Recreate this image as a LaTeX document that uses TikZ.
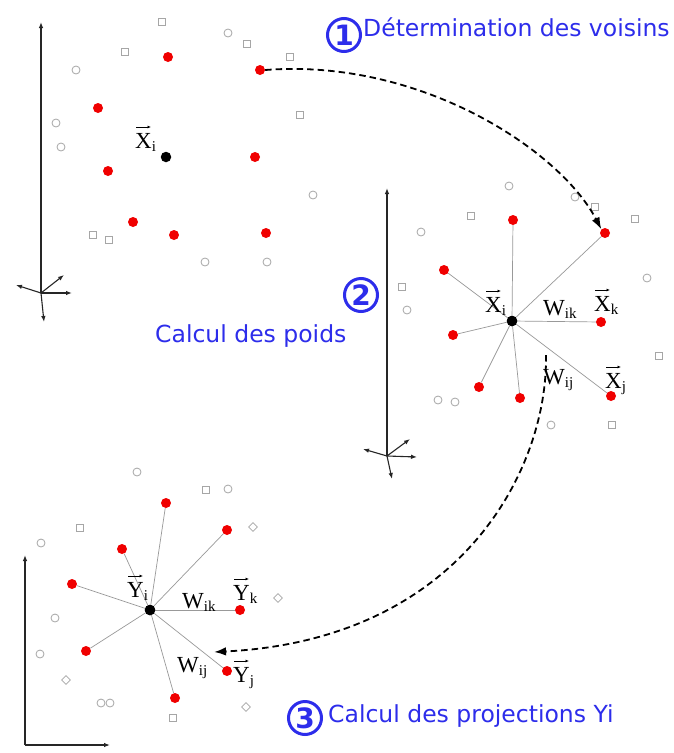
\documentclass[tikz,border=0pt]{standalone}
\usepackage{fontspec}
\setmainfont{Liberation Serif}
\newfontfamily\dvsans{DejaVu Sans}
\usetikzlibrary{arrows.meta,shapes.geometric}
\definecolor{txtblue}{RGB}{45,45,235}
\definecolor{ptred}{RGB}{240,0,0}
\newcommand\subl[1]{$_{\mbox{\fontsize{15}{15}\selectfont #1}}$}
\tikzset{
  reddot/.style={circle,fill=ptred,inner sep=0pt,minimum size=10pt},
  blackdot/.style={circle,fill=black,inner sep=0pt,minimum size=10.5pt},
  hc/.style={circle,draw=black!35,line width=0.8pt,inner sep=0pt,minimum size=8pt},
  hs/.style={rectangle,draw=black!35,line width=0.8pt,inner sep=0pt,minimum size=7.5pt},
  hd/.style={diamond,draw=black!35,line width=0.8pt,inner sep=0pt,minimum size=9pt},
  spoke/.style={draw=black!40,line width=0.7pt},
  axis/.style={draw=black!85,line width=1.1pt,-{Latex[length=6pt,width=4.5pt]}},
  flow/.style={draw=black,line width=1.8pt,dash pattern=on 6.5pt off 4pt,-{Latex[length=12pt,width=8.5pt]}},
  lab/.style={font=\fontsize{23}{23}\selectfont,inner sep=0pt,anchor=base west},
  vec/.style={draw=black,line width=0.8pt,-{Latex[length=3.5pt,width=3pt]}},
  stepnum/.style={circle,draw=txtblue,line width=3pt,inner sep=0pt,minimum size=33pt,text=txtblue,font=\dvsans\bfseries\fontsize{28}{28}\selectfont},
  steptext/.style={text=txtblue,font=\dvsans\fontsize{23.5}{23.5}\selectfont,inner sep=0pt,anchor=base west}
}
\begin{document}
\begin{tikzpicture}[x=1pt,y=-1pt]
\useasboundingbox[fill=white] (0,0) rectangle (674,753);

% ---------- hollow background points ----------
\foreach \x/\y [count=\n] in {228/33,76/70,56/123,61/147,313/195,205/262,267/262,
  509/186,575/197,421/232,647/278,407/310,438/400,455/402,551/425,
  137/472,228/489,41/543,55/618,40/654,101/703,110/703}
  \node[hc] (c\n) at (\x,\y) {};
\foreach \x/\y [count=\n] in {162/22,247/44,125/52,290/57,300/115,93/235,109/240,
  595/207,471/216,635/219,402/287,659/356,612/425,
  206/490,80/528,173/718}
  \node[hs] (s\n) at (\x,\y) {};
\foreach \x/\y [count=\n] in {253/527,278/598,66/680,246/707}
  \node[hd] (d\n) at (\x,\y) {};

% ---------- panel 1 ----------
\coordinate (o1) at (41,293);
\coordinate (o1t) at (41,22);
\coordinate (o1a) at (72,293);
\coordinate (o1b) at (64,275);
\coordinate (o1c) at (16,285);
\coordinate (o1d) at (44,322);
\draw[axis] (o1) -- (o1t);
\foreach \e in {o1a,o1b,o1c,o1d} \draw[axis] (o1) -- (\e);

\foreach \x/\y [count=\n] in {168/57,260/70,98/108,108/171,255/157,133/222,174/235,266/233}
  \node[reddot] (a\n) at (\x,\y) {};
\node[blackdot] (ax) at (166,157) {};
\node[lab] (axl) at (135,148) {X\subl{i}};
\draw[vec] ([shift={(1,-21)}]axl.base west) -- ++(15,0);

% ---------- panel 2 ----------
\coordinate (o2) at (387,456);
\coordinate (o2t) at (387,188);
\coordinate (o2a) at (417,457);
\coordinate (o2b) at (410,439);
\coordinate (o2c) at (363,449);
\coordinate (o2d) at (392,479);
\draw[axis] (o2) -- (o2t);
\foreach \e in {o2a,o2b,o2c,o2d} \draw[axis] (o2) -- (\e);

\node[blackdot] (bx) at (512,321) {};
\foreach \x/\y [count=\n] in {513/220,605/233,444/270,601/322,453/335,479/387,520/398,611/396}
  \node[reddot] (b\n) at (\x,\y) {};
\foreach \n in {1,...,8} \draw[spoke] (bx) -- (b\n);
\node[blackdot] at (bx) {};
\node[lab] (bxl) at (485,312) {X\subl{i}};
\draw[vec] ([shift={(1,-21)}]bxl.base west) -- ++(15,0);
\node[lab] (bwk) at (543,315) {W\subl{ik}};
\node[lab] (bxk) at (594,311) {X\subl{k}};
\draw[vec] ([shift={(1,-21)}]bxk.base west) -- ++(15,0);
\node[lab] (bwj) at (543,384) {W\subl{ij}};
\node[lab] (bxj) at (605,388) {X\subl{j}};
\draw[vec] ([shift={(1,-21)}]bxj.base west) -- ++(15,0);

% ---------- panel 3 ----------
\coordinate (o3) at (25,745);
\coordinate (o3t) at (25,555);
\coordinate (o3r) at (110,745);
\draw[axis] (o3) -- (o3t);
\draw[axis] (o3) -- (o3r);

\node[blackdot] (cx) at (150,610) {};
\foreach \x/\y [count=\n] in {166/503,227/530,122/549,72/584,240/610,86/651,227/671,175/698}
  \node[reddot] (e\n) at (\x,\y) {};
\foreach \n in {1,...,8} \draw[spoke] (cx) -- (e\n);
\node[blackdot] at (cx) {};
\node[lab] (cyl) at (127,597) {Y\subl{i}};
\draw[vec] ([shift={(1,-21)}]cyl.base west) -- ++(15,0);
\node[lab] (cwk) at (182,608) {W\subl{ik}};
\node[lab] (cyk) at (233,600) {Y\subl{k}};
\draw[vec] ([shift={(1,-21)}]cyk.base west) -- ++(15,0);
\node[lab] (cwj) at (177,672) {W\subl{ij}};
\node[lab] (cyj) at (233,682) {Y\subl{j}};
\draw[vec] ([shift={(1,-21)}]cyj.base west) -- ++(15,0);

% ---------- flow arrows ----------
\draw[flow] (a2.east) .. controls (420,58) and (560,150) .. (b2.north west);
\coordinate (f2s) at (546,355);
\coordinate (f2e) at (214,652);
\draw[flow] (f2s) .. controls (548,470) and (460,640) .. (f2e);

% ---------- step titles ----------
\node[stepnum] (n1) at (344,35) {1};
\node[steptext] (t1) at (363,36) {Détermination des voisins};
\node[stepnum] (n2) at (361,295) {2};
\node[steptext] (t2) at (155,342) {Calcul des poids};
\node[stepnum] (n3) at (305,718) {3};
\node[steptext] (t3) at (328,722) {Calcul des projections Yi};
\end{tikzpicture}
\end{document}
